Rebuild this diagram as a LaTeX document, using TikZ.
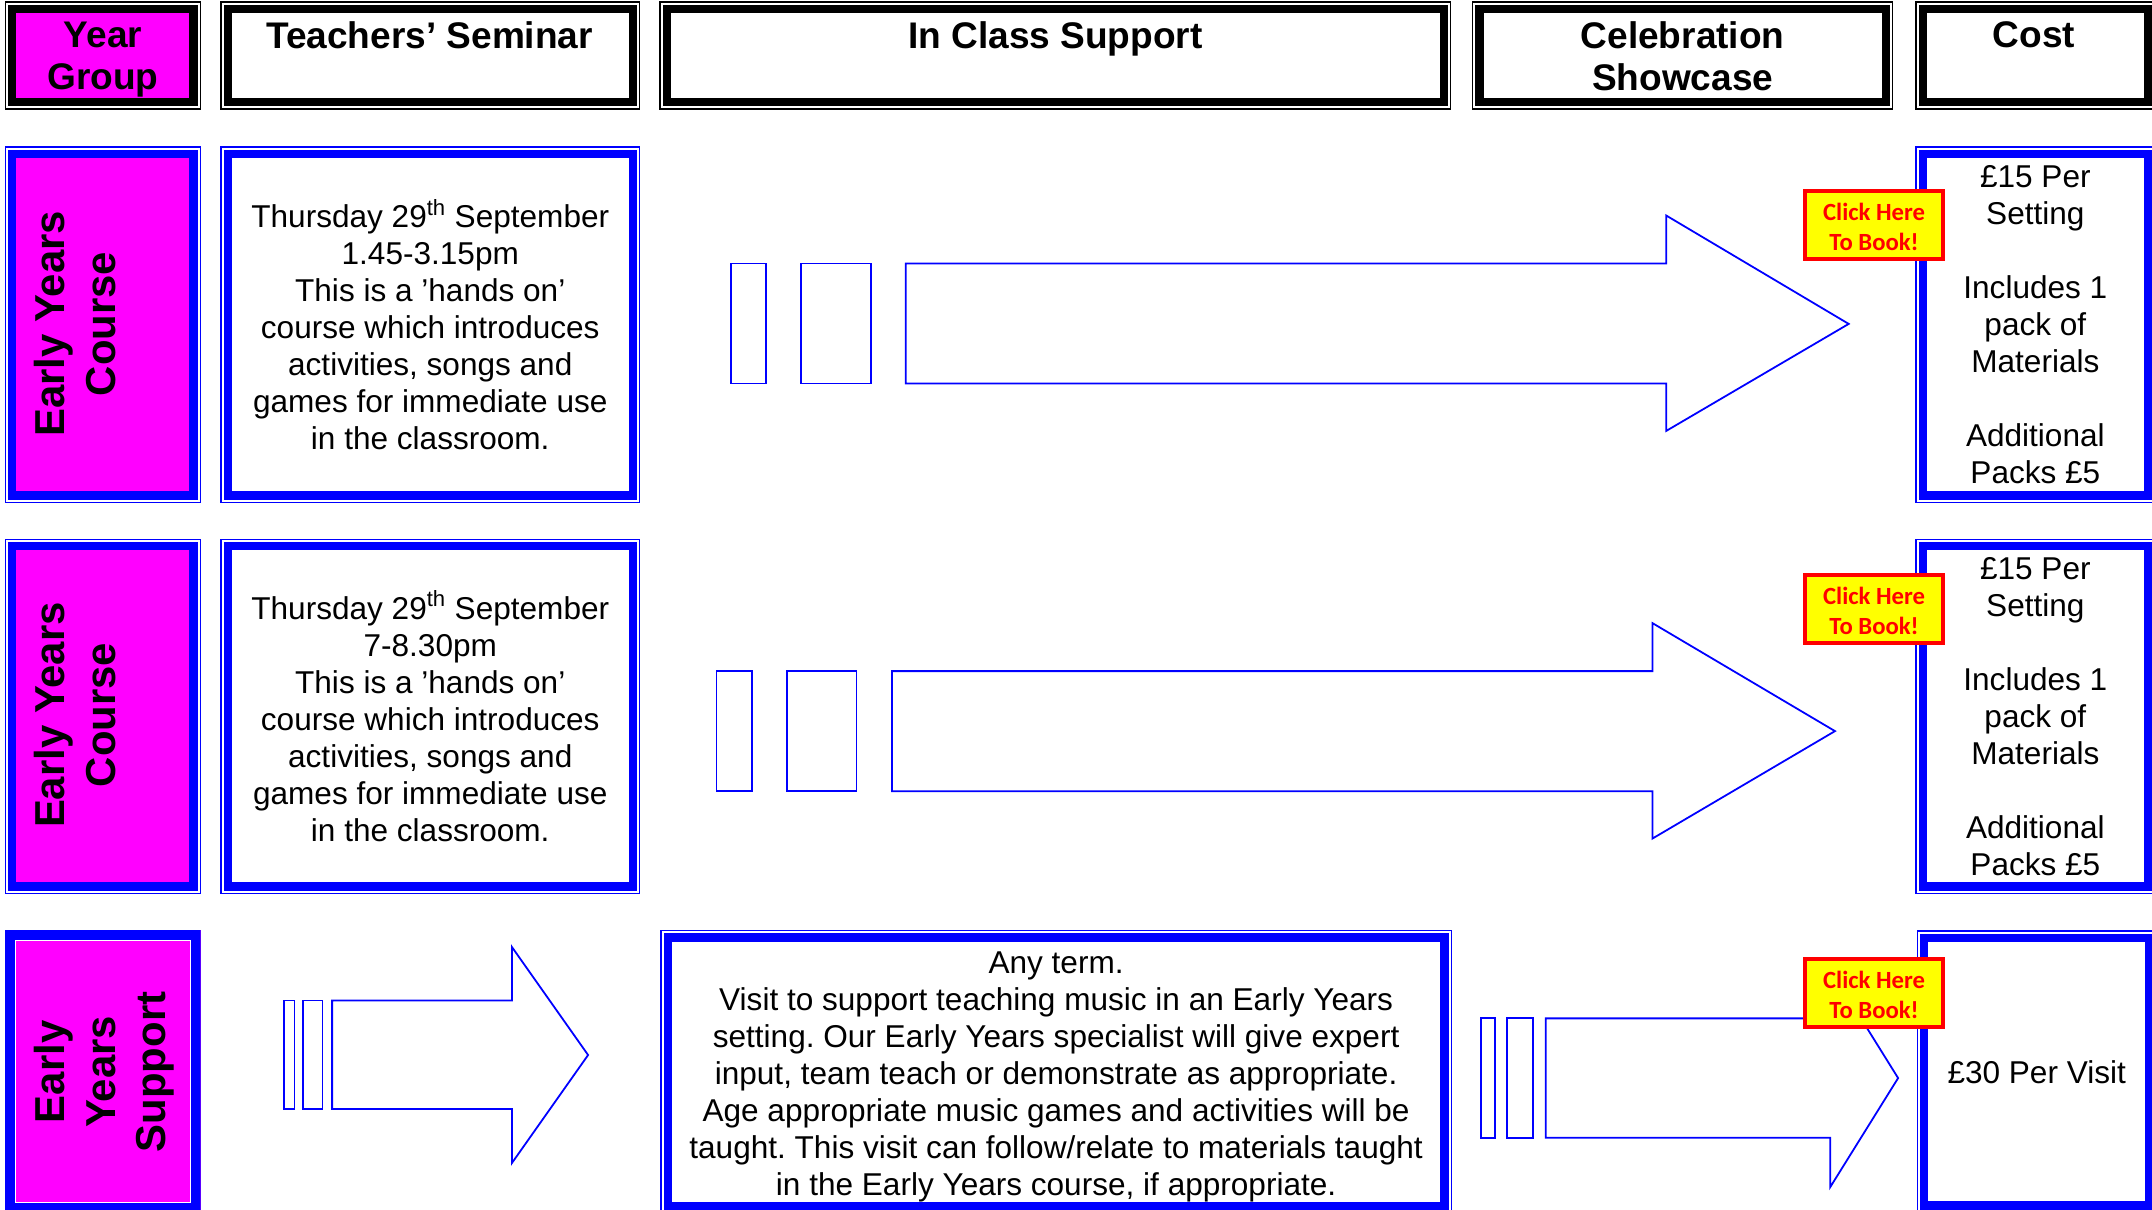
\documentclass[tikz,border=0pt]{standalone}
\usepackage{fontspec}
\setmainfont{Liberation Sans}
\newfontfamily\btnfont{Carlito}
\definecolor{mag}{RGB}{255,0,255}
\definecolor{bl}{RGB}{0,0,255}
\definecolor{btnred}{RGB}{255,0,0}
\definecolor{btnyel}{RGB}{255,255,0}
\frenchspacing
\begin{document}
\begin{tikzpicture}[x=1pt,y=-1pt,
  dbl/.style 2 args={draw=#1, line width=1.1pt, inner sep=0pt, outer sep=0pt, anchor=north west, fill=white,
    path picture={
      \fill[#2] ([xshift=4pt,yshift=-4pt]path picture bounding box.north west) rectangle ([xshift=-4pt,yshift=4pt]path picture bounding box.south east);
      \draw[draw=#1, line width=6pt] ([xshift=5pt,yshift=-5pt]path picture bounding box.north west) rectangle ([xshift=-5pt,yshift=5pt]path picture bounding box.south east);
    }},
  tkthin/.style={draw=none, inner sep=0pt, outer sep=0pt, anchor=north west, fill=mag,
    path picture={
      \draw[draw=bl, line width=7pt] ([xshift=3.5pt,yshift=-3.5pt]path picture bounding box.north west) rectangle ([xshift=-3.5pt,yshift=3.5pt]path picture bounding box.south east);
      \draw[draw=white, line width=1pt] ([xshift=7.6pt,yshift=-7.6pt]path picture bounding box.north west) rectangle ([xshift=-7.6pt,yshift=7.6pt]path picture bounding box.south east);
    }},
  head/.style={anchor=north, inner sep=0pt, align=center, font=\bfseries\fontsize{27}{31}\selectfont},
  yr/.style={rotate=90, anchor=north, inner sep=0pt, align=center, font=\bfseries\fontsize{30.5}{37}\selectfont},
  body/.style={align=center, font=\fontsize{23}{27}\selectfont},
  arr/.style={draw=bl, line width=1.3pt, line join=miter},
  btn/.style={draw=btnred, fill=btnyel, line width=3pt, anchor=north west, inner sep=0pt, outer sep=0pt,
    minimum width=101pt, minimum height=49.5pt},
  btntext/.style={inner sep=0pt, align=center, text=btnred,
    font=\btnfont\bfseries\fontsize{18}{22}\selectfont}
]
\useasboundingbox (0,0) rectangle (1568,881);
\fill[white] (0,0) rectangle (1568,881);

% ---------- header row ----------
\node[dbl={black}{mag}, minimum width=142pt, minimum height=78pt] (hyear) at (4,1.5) {};
\node[dbl={black}{white}, minimum width=305pt, minimum height=78pt] (hsem) at (161,1.5) {};
\node[dbl={black}{white}, minimum width=576pt, minimum height=78pt] (hics) at (481,1.5) {};
\node[dbl={black}{white}, minimum width=306pt, minimum height=78pt] (hcel) at (1073,1.5) {};
\node[dbl={black}{white}, minimum width=174pt, minimum height=78pt] (hcost) at (1396,1.5) {};
\node[head] (hyeart) at (75,15.5) {Year\\Group};
\node[head] (hsemt) at (313,15.5) {Teachers’ Seminar};
\node[head] (hicst) at (769,15.5) {In Class Support};
\node[head] (hcelt) at (1226,15.5) {Celebration\\Showcase};
\node[head] (hcostt) at (1482,15.5) {Cost};

% ---------- row 1 ----------
\node[dbl={bl}{mag}, minimum width=142pt, minimum height=259pt] (y1) at (4,107) {};
\node[yr] (y1t) at (25,236) {Early Years\\Course};
\node[dbl={bl}{white}, minimum width=305pt, minimum height=259pt, body] (s1) at (161,107)
  {Thursday 29\textsuperscript{th} September\\1.45-3.15pm\\This is a ’hands on’\\course which introduces\\activities, songs and\\games for immediate use\\in the classroom.};
\node[dbl={bl}{white}, minimum width=174pt, minimum height=259pt, body] (c1) at (1396,107)
  {£15 Per\\Setting\\[27pt]Includes 1\\pack of\\Materials\\[27pt]Additional\\Packs £5};
\draw[arr] (532.5,192) rectangle (558,279.5);
\draw[arr] (583.5,192) rectangle (634.5,279.5);
\draw[arr] (660,192) -- (1214,192) -- (1214,157) -- (1347,236) -- (1214,314) -- (1214,279.5) -- (660,279.5) -- cycle;
\node[btn] (b1) at (1315,139) {};
\node[btntext] (b1t) at ([yshift=-1.5pt]b1.center) {Click Here\\To Book!};

% ---------- row 2 ----------
\node[dbl={bl}{mag}, minimum width=142pt, minimum height=258pt] (y2) at (4,393) {};
\node[yr] (y2t) at (25,521) {Early Years\\Course};
\node[dbl={bl}{white}, minimum width=305pt, minimum height=258pt, body] (s2) at (161,393)
  {Thursday 29\textsuperscript{th} September\\7-8.30pm\\This is a ’hands on’\\course which introduces\\activities, songs and\\games for immediate use\\in the classroom.};
\node[dbl={bl}{white}, minimum width=174pt, minimum height=258pt, body] (c2) at (1396,393)
  {£15 Per\\Setting\\[27pt]Includes 1\\pack of\\Materials\\[27pt]Additional\\Packs £5};
\draw[arr] (522,489) rectangle (548,576.5);
\draw[arr] (573.5,489) rectangle (624,576.5);
\draw[arr] (650,489) -- (1204,489) -- (1204,454) -- (1337,532.7) -- (1204,611) -- (1204,576.5) -- (650,576.5) -- cycle;
\node[btn] (b2) at (1315,419) {};
\node[btntext] (b2t) at ([yshift=-1.5pt]b2.center) {Click Here\\To Book!};

% ---------- row 3 ----------
\node[tkthin, minimum width=142.5pt, minimum height=206pt] (y3) at (3.7,677.6) {};
\node[yr, font=\bfseries\fontsize{30.5}{36.5}\selectfont] (y3t) at (25,781) {Early\\Years\\Support};
\draw[arr] (207,729) rectangle (214.5,808);
\draw[arr] (221,729) rectangle (235,808);
\draw[arr] (242,729) -- (373,729) -- (373,690) -- (428.5,768.7) -- (373,847.4) -- (373,808) -- (242,808) -- cycle;
\node[dbl={bl}{white}, minimum width=576pt, minimum height=206pt, body] (m3) at (481.5,678)
  {\rule{0pt}{23pt}Any term.\\Visit to support teaching music in an Early Years\\setting. Our Early Years specialist will give expert\\input, team teach or demonstrate as appropriate.\\Age appropriate music games and activities will be\\taught. This visit can follow/relate to materials taught\\in the Early Years course, if appropriate.};
\draw[arr] (1079,742) rectangle (1089,829);
\draw[arr] (1098,742) rectangle (1117,829);
\draw[arr] (1126.3,742) -- (1333.5,742) -- (1333.5,706) -- (1383,785.5) -- (1333.5,865) -- (1333.5,829) -- (1126.3,829) -- cycle;
\node[dbl={bl}{white}, minimum width=174pt, minimum height=205pt, body] (c3) at (1397,678.4)
  {£30 Per Visit};
\node[btn] (b3) at (1315,698.5) {};
\node[btntext] (b3t) at ([yshift=-1.5pt]b3.center) {Click Here\\To Book!};
\end{tikzpicture}
\end{document}
